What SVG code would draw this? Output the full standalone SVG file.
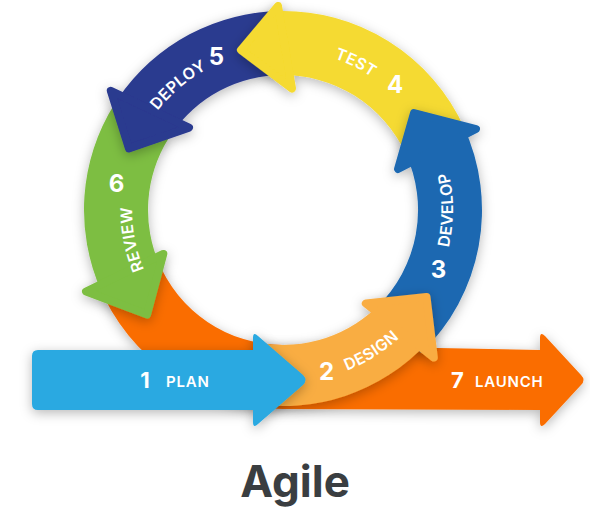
<svg xmlns="http://www.w3.org/2000/svg" width="590" height="511" viewBox="0 0 590 511">
  <defs>
    <filter id="sh" x="-30%" y="-30%" width="160%" height="160%">
      <feDropShadow dx="0" dy="3" stdDeviation="6" flood-color="#000" flood-opacity="0.28"/>
    </filter>
    <path id="tp-develop" d="M 430.2 295 A 170 170 0 0 0 430.2 125"/>
    <path id="tp-test" d="M 300.6 51 A 160 160 0 0 1 398.7 99.5"/>
    <path id="tp-deploy" d="M 138 142.4 A 160 160 0 0 1 241.6 55.5"/>
    <path id="tp-review" d="M 153.6 287.8 A 151 151 0 0 1 133.9 186.4"/>
    <path id="tp-design" d="M 319 379.2 A 173 173 0 0 0 419.3 316.5"/>
  </defs>
  <style>
    .head { stroke-width: 8; stroke-linejoin: round; }
    .lbl { font-family: Inter, "Open Sans", "Liberation Sans", sans-serif; font-weight: 600; font-size: 16px; fill: #fff; letter-spacing: 0.3px; }
    .num { font-family: Inter, "Open Sans", "Liberation Sans", sans-serif; font-weight: 700; font-size: 24px; fill: #fff; text-anchor: middle; }
    .hl { font-family: Inter, "Open Sans", "Liberation Sans", sans-serif; font-weight: 600; font-size: 15px; fill: #fff; letter-spacing: 0.8px; }
    .title { font-family: Inter, "Open Sans", "Liberation Sans", sans-serif; font-weight: 700; font-size: 44px; fill: #3A3E41; text-anchor: middle; }
  </style>
  <rect width="590" height="511" fill="#fff"/>
  <g id="connectors"/>

  <g id="launch">
    <g filter="url(#sh)">
      <path fill="#FA6D05" d="M 98.5 284.5 A 199 199 0 0 0 283 409 L 540 410 L 540 422 Q 540 429 545 424 L 581 385 Q 586 380 581 375 L 545 336 Q 540 331 540 338 L 540 350 L 283 345 A 135 135 0 0 1 157.8 260.6 Z"/>
    </g>
    <text class="num" x="457.5" y="388" style="font-size:22px">7</text>
    <text class="hl" x="475" y="387">LAUNCH</text>
  </g>

  <g id="review">
    <g filter="url(#sh)" fill="#7DBE42" stroke="#7DBE42">
      <path stroke="none" d="M 114.2 104.5 A 199 199 0 0 0 101.2 290.9 L 159.7 264.9 A 135 135 0 0 1 168.5 138.5 Z"/>
      <path class="head" d="M 163.3 253.9 L 86 291.6 L 147.1 314.5 Z"/>
    </g>
    <text class="num" x="116.5" y="192">6</text>
    <text class="lbl"><textPath href="#tp-review" startOffset="50%" text-anchor="middle">REVIEW</textPath></text>
  </g>

  <g id="deploy">
    <g filter="url(#sh)" fill="#2B3A8F" stroke="#2B3A8F">
      <path stroke="none" d="M 283 11 A 199 199 0 0 0 118 98.7 L 171.1 134.5 A 135 135 0 0 1 283 75 Z"/>
      <path class="head" d="M 110.8 90.8 L 189 127.6 L 128.9 148.4 Z"/>
    </g>
    <text class="num" x="216.5" y="65">5</text>
    <text class="lbl"><textPath href="#tp-deploy" startOffset="50%" text-anchor="middle">DEPLOY</textPath></text>
  </g>

  <g id="test">
    <g filter="url(#sh)" fill="#F5DA30" stroke="#F5DA30">
      <path stroke="none" d="M 464.8 129.1 A 199 199 0 0 0 276.1 11.1 L 278.3 75.1 A 135 135 0 0 1 406.3 155.1 Z"/>
      <path class="head" d="M 278 6 L 241 50 L 292 88.5 Z"/>
    </g>
    <text class="num" x="395" y="93">4</text>
    <text class="lbl"><textPath href="#tp-test" startOffset="50%" text-anchor="middle">TEST</textPath></text>
  </g>

  <g id="develop">
    <g filter="url(#sh)" fill="#1B68B1" stroke="#1B68B1">
      <path stroke="none" d="M 421.2 353.1 A 199 199 0 0 0 463.4 125.9 L 405.4 152.9 A 135 135 0 0 1 376.8 307.1 Z"/>
      <path class="head" d="M 414 113 L 476 129 L 398 169 Z"/>
    </g>
    <text class="num" x="438.5" y="278">3</text>
    <text class="lbl"><textPath href="#tp-develop" startOffset="50%" text-anchor="middle">DEVELOP</textPath></text>
  </g>

  <g id="design">
    <g filter="url(#sh)" fill="#F9AD43" stroke="#F9AD43">
      <path stroke="none" d="M 249 403 A 196 196 0 0 0 426.4 343.7 L 381.7 302.1 A 135 135 0 0 1 259.6 342.9 Z"/>
      <path class="head" d="M 426.5 297.1 L 433.8 357.6 L 365.8 303.4 Z"/>
    </g>
    <text class="num" x="326.5" y="380">2</text>
    <text class="lbl"><textPath href="#tp-design" startOffset="50%" text-anchor="middle">DESIGN</textPath></text>
  </g>

  <g id="plan">
    <g filter="url(#sh)">
      <path fill="#29A9E1" d="M 38 350 L 253 350 L 253 338 Q 253 331 258 336 L 303 375 Q 308 380 303 385 L 258 424 Q 253 429 253 422 L 253 410 L 38 410 Q 32 410 32 404 L 32 356 Q 32 350 38 350 Z"/>
    </g>
    <text class="num" x="145" y="388" style="font-size:22px">1</text>
    <text class="hl" x="166" y="387">PLAN</text>
  </g>

  <g id="title">
    <text class="title" x="295" y="497">Agile</text>
  </g>
</svg>
